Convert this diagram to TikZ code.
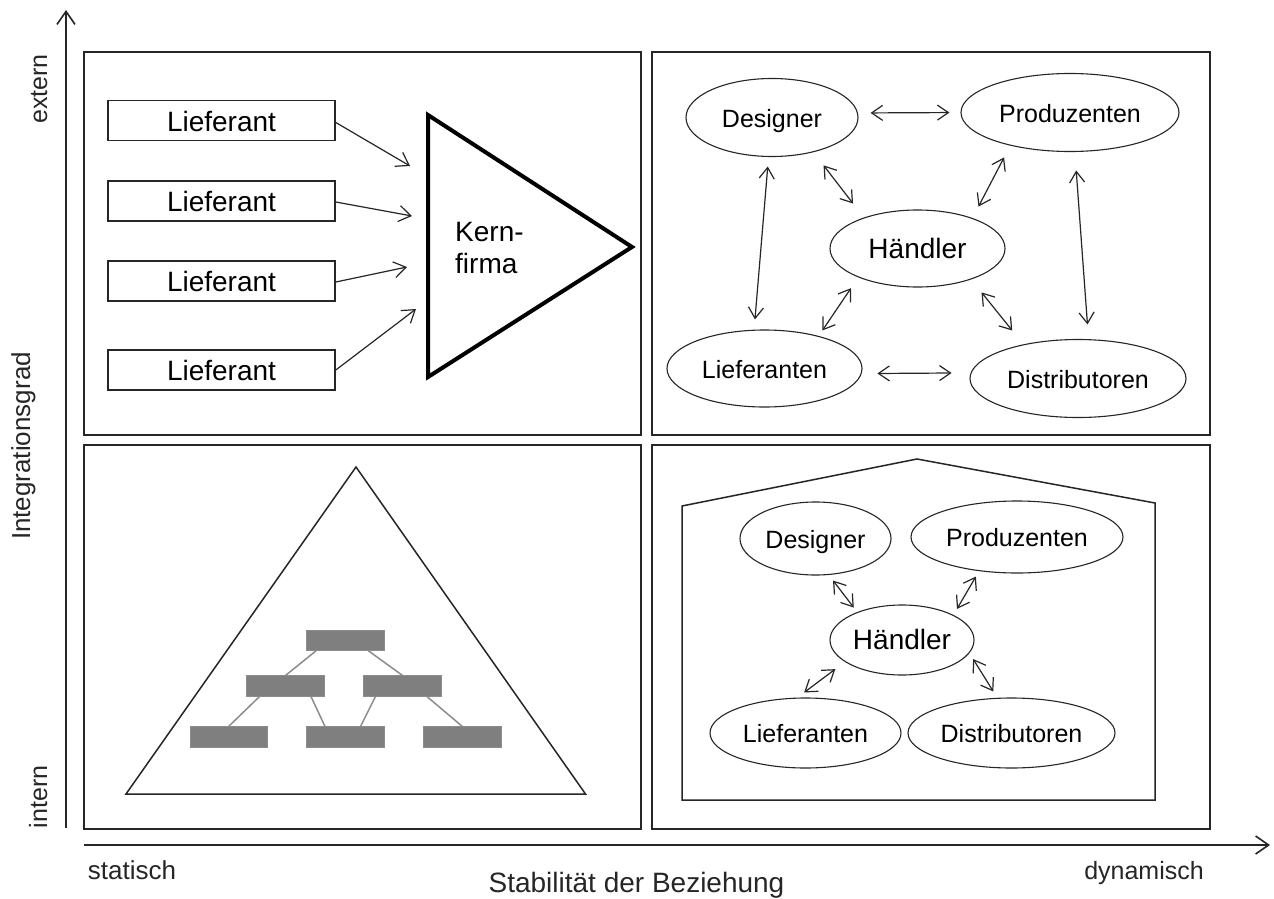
\documentclass[tikz,border=0pt]{standalone}
\usepackage{fontspec}
\setmainfont{Liberation Sans}
\usetikzlibrary{shapes.geometric,arrows.meta}
\definecolor{ink}{HTML}{262626}
\definecolor{orgfill}{HTML}{7F7F7F}
\definecolor{orgline}{HTML}{8C8C8C}
\tikzset{
  panel/.style={draw=ink, line width=1.5pt},
  lbox/.style={draw=ink, line width=1.6pt, minimum width=227pt, minimum height=40pt,
    inner sep=0pt, text height=21pt, text depth=0pt, font=\fontsize{28}{32}\selectfont},
  role/.style={ellipse, draw=ink, line width=1.1pt, inner sep=0pt,
    text height=19.5pt, text depth=0pt, font=\fontsize{25}{30}\selectfont},
  hub/.style={role, font=\fontsize{28}{32}\selectfont},
  link/.style={{Straight Barb[length=11pt,width=15pt]}-{Straight Barb[length=11pt,width=15pt]},
    draw=ink, line width=1.2pt},
  feed/.style={-{Straight Barb[length=12pt,width=16pt]}, draw=ink, line width=1.2pt},
  orgbox/.style={fill=orgfill, draw=orgline, line width=0.6pt, minimum width=77.5pt,
    minimum height=20.5pt, inner sep=0pt},
  orgedge/.style={draw=orgline, line width=1.5pt},
  axis/.style={-{Straight Barb[length=13pt,width=18pt]}, draw=ink, line width=1.6pt},
  axlabel/.style={font=\fontsize{25}{30}\selectfont, text=ink, inner sep=0pt},
}
\begin{document}
\begin{tikzpicture}[x=1pt,y=-1pt]
\fill[white] (0,0) rectangle (1274,899);
\useasboundingbox (0,0) rectangle (1274,899);

% axes
\coordinate (yfoot) at (66,828);
\coordinate (ytip) at (66,10);
\coordinate (xfoot) at (84,845);
\coordinate (xtip) at (1270,845);
\draw[axis] (yfoot) -- (ytip);
\draw[axis] (xfoot) -- (xtip);
\node[axlabel, rotate=90, anchor=base] (lext) at (47,89) {extern};
\node[axlabel, rotate=90, anchor=base, font=\fontsize{26}{30}\selectfont] (lint) at (30,446) {Integrationsgrad};
\node[axlabel, rotate=90, anchor=base] (lin) at (47,797) {intern};
\node[axlabel, anchor=base, font=\fontsize{26}{30}\selectfont] (lsta) at (132,879) {statisch};
\node[axlabel, anchor=base] (ldyn) at (1144,879) {dynamisch};
\node[axlabel, anchor=base, font=\fontsize{28}{32}\selectfont] (lstab) at (636.5,892) {Stabilität der Beziehung};

% quadrant frames
\draw[panel] (84,52) rectangle (641,435);
\draw[panel] (652,52) rectangle (1210,435);
\draw[panel] (84,445) rectangle (641,829);
\draw[panel] (652,445) rectangle (1210,829);

% top left: suppliers feeding the core firm
\node[lbox] (l1) at (221.5,120.5) {Lieferant};
\node[lbox] (l2) at (221.5,201) {Lieferant};
\node[lbox] (l3) at (221.5,281) {Lieferant};
\node[lbox] (l4) at (221.5,370) {Lieferant};
\coordinate (ka) at (428,115);
\coordinate (kb) at (632,247);
\coordinate (kc) at (428,377);
\draw[draw=black, line width=4pt, line join=miter] (ka) -- (kb) -- (kc) -- cycle;
\node[font=\fontsize{28}{32}\selectfont, align=left, anchor=north west, inner sep=0pt] (kern)
  at (455,222) {Kern-\\firma};
\coordinate (t1) at (410,166);
\coordinate (t2) at (412,216);
\coordinate (t3) at (407,267);
\coordinate (t4) at (416,309);
\draw[feed] ([yshift=-2pt]l1.east) -- (t1);
\draw[feed] ([yshift=-1pt]l2.east) -- (t2);
\draw[feed] ([yshift=-1pt]l3.east) -- (t3);
\draw[feed] (l4.east) -- (t4);

% top right: network of partners
\node[role, minimum width=172pt, minimum height=78pt] (des) at (772,117.5) {Designer};
\node[role, minimum width=218pt, minimum height=78pt] (prod) at (1070,112.5) {Produzenten};
\node[hub, minimum width=175pt, minimum height=77pt] (hand) at (917.5,248.5) {Händler};
\node[role, minimum width=195pt, minimum height=77pt] (lief) at (764.5,368.5) {Lieferanten};
\node[role, minimum width=216pt, minimum height=78pt] (dist) at (1078,378.5) {Distributoren};
\draw[link, shorten <=12.6pt, shorten >=11pt] (des.3) -- (prod.180);
\draw[link, shorten <=9.5pt, shorten >=10.3pt] (des.-95) -- (lief.105);
\draw[link, shorten <=16.6pt, shorten >=17.7pt] (des.-40) -- (hand.150);
\draw[link, shorten <=13.3pt, shorten >=12.9pt] (prod.-151) -- (hand.29);
\draw[link, shorten <=18.5pt, shorten >=14.7pt] (prod.-83) -- (dist.75.5);
\draw[link, shorten <=13pt, shorten >=6.6pt] (hand.206) -- (lief.31);
\draw[link, shorten <=16.6pt, shorten >=17.7pt] (hand.-30) -- (dist.148);
\draw[link, shorten <=15.7pt, shorten >=19pt] (lief.-3) -- (dist.177);

% bottom left: hierarchy inside a pyramid
\coordinate (pa) at (126,794);
\coordinate (pb) at (356,467);
\coordinate (pc) at (585.5,794);
\draw[draw=ink, line width=1.5pt] (pa) -- (pb) -- (pc) -- cycle;
\node[orgbox] (o1) at (345.5,640.3) {};
\node[orgbox] (o2) at (285.5,686) {};
\node[orgbox] (o3) at (402.5,686) {};
\node[orgbox] (o4) at (228.6,737) {};
\node[orgbox] (o5) at (345.5,737) {};
\node[orgbox] (o6) at (462.3,737) {};
\draw[orgedge] ([xshift=-29.5pt]o1.south) -- (o2.north);
\draw[orgedge] ([xshift=23pt]o1.south) -- (o3.north);
\draw[orgedge] ([xshift=-26pt]o2.south) -- (o4.north);
\draw[orgedge] ([xshift=25.5pt]o2.south) -- ([xshift=-20.5pt]o5.north);
\draw[orgedge] ([xshift=-27pt]o3.south) -- ([xshift=15pt]o5.north);
\draw[orgedge] ([xshift=24.5pt]o3.south) -- (o6.north);

% bottom right: partners under one roof
\coordinate (h1) at (682,800);
\coordinate (h2) at (682,506);
\coordinate (h3) at (917,459);
\coordinate (h4) at (1155,503);
\coordinate (h5) at (1155,800);
\draw[draw=ink, line width=1.5pt] (h1) -- (h2) -- (h3) -- (h4) -- (h5) -- cycle;
\node[role, minimum width=151pt, minimum height=73pt] (bdes) at (815.5,538.5) {Designer};
\node[role, minimum width=212pt, minimum height=72pt] (bprod) at (1017,537) {Produzenten};
\node[hub, minimum width=144pt, minimum height=70pt] (bhand) at (902,640) {Händler};
\node[role, minimum width=191pt, minimum height=70pt] (blief) at (805.5,733) {Lieferanten};
\node[role, minimum width=207pt, minimum height=70pt] (bdist) at (1011.5,733) {Distributoren};
\draw[link, shorten <=7pt, shorten >=5.7pt] (bdes.-70) -- (bhand.148);
\draw[link, shorten <=6.3pt, shorten >=7pt] (bprod.-138) -- (bhand.26);
\draw[link, shorten <=12pt, shorten >=8.5pt] (bhand.201) -- (blief.103);
\draw[link, shorten <=7pt, shorten >=7.5pt] (bhand.-11) -- (bdist.112);
\end{tikzpicture}
\end{document}
